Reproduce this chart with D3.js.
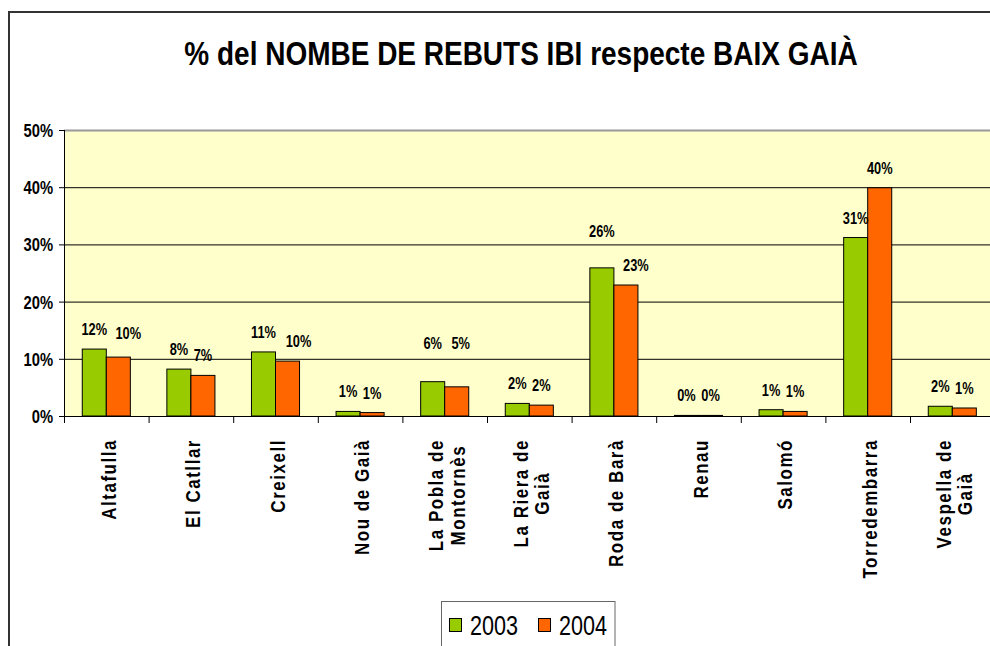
<!DOCTYPE html>
<html>
<head>
<meta charset="utf-8">
<script src="https://cdn.jsdelivr.net/npm/d3@7"></script>
<style>
  body { margin: 0; background: #fff; }
  svg { display: block; font-family: "Liberation Sans", Arial, sans-serif; }
</style>
</head>
<body>
<svg id="chart" width="990" height="646"></svg>
<script>
// data (percent)
var categories = ["Altafulla", "El Catllar", "Creixell", "Nou de Gaià", "La Pobla de\nMontornès",
                  "La Riera de\nGaià", "Roda de Barà", "Renau", "Salomó", "Torredembarra", "Vespella de\nGaià"];
var seriesNames = ["2003", "2004"];
var values2003 = [11.7, 8.2, 11.2, 0.8, 6.0, 2.2, 25.9, 0.1, 1.1, 31.2, 1.7];
var values2004 = [10.3, 7.1, 9.6, 0.6, 5.1, 1.9, 22.9, 0.1, 0.8, 39.9, 1.4];
var yTicks = [0, 10, 20, 30, 40, 50];
var titleText = "% del NOMBE DE REBUTS IBI respecte BAIX GAIÀ";

var colors = { "2003": "#99cc00", "2004": "#ff6600" };
// a few labels that were moved by hand in the original
var labelNudge = {
  "Altafulla|2004": [10, -4],
  "Creixell|2004": [11, 0],
  "La Pobla de\nMontornès|2003": [0, -19],
  "La Pobla de\nMontornès|2004": [4, -24],
  "Roda de Barà|2003": [0, -17],
  "Roda de Barà|2004": [10, 0]
};

var svg = d3.select('#chart');
var plotLeft = 64, plotTop = 130, plotBottom = 416, bandW = 84.6;

// squeeze text horizontally, the original fonts are narrow
function squeeze(sel, k){
    sel.each(function(){
        var len = this.getComputedTextLength();
        d3.select(this).attr('textLength', len * k).attr('lengthAdjust', 'spacingAndGlyphs');
    });
}

var x = d3.scaleBand().domain(categories)
    .range([plotLeft, plotLeft + bandW * categories.length])
    .paddingInner(0).paddingOuter(0);
var xs = d3.scaleBand().domain(seriesNames).range([0, x.bandwidth()]).paddingOuter(0.76);
var y = d3.scaleLinear().domain([0, 50]).range([plotBottom, plotTop]);

var rows = categories.map(function(c, i){
    return { cat: c, vals: [{ s: "2003", v: values2003[i] }, { s: "2004", v: values2004[i] }] };
});

// outer frame
svg.append('rect').attr('x', 9).attr('y', 12).attr('width', 1000).attr('height', 660)
    .attr('fill', 'none').attr('stroke', '#333').attr('stroke-width', 2);

// title
var title = svg.append('text').attr('x', 521).attr('y', 65).attr('text-anchor', 'middle')
    .attr('font-size', 34).attr('font-weight', 'bold').text(titleText);
squeeze(title, 0.823);

// plot background
svg.append('rect').attr('x', plotLeft).attr('y', plotTop)
    .attr('width', x.range()[1] - plotLeft).attr('height', plotBottom - plotTop)
    .attr('fill', '#ffffcc');

// grid lines
svg.append('g').selectAll('line').data(yTicks.filter(function(t){ return t > 0 && t < 50; }))
    .enter().append('line')
    .attr('x1', plotLeft).attr('x2', x.range()[1])
    .attr('y1', function(d){ return y(d) + 0.5; }).attr('y2', function(d){ return y(d) + 0.5; })
    .attr('stroke', '#000').attr('stroke-width', 1);
svg.append('line').attr('x1', plotLeft).attr('x2', x.range()[1])
    .attr('y1', plotTop + 0.5).attr('y2', plotTop + 0.5).attr('stroke', '#999').attr('stroke-width', 2);

// bars
var groups = svg.append('g').selectAll('g').data(rows).enter().append('g')
    .attr('transform', function(d){ return 'translate(' + x(d.cat) + ',0)'; });
groups.selectAll('rect').data(function(d){ return d.vals; }).enter().append('rect')
    .attr('x', function(d){ return xs(d.s); })
    .attr('y', function(d){ return y(d.v); })
    .attr('width', xs.bandwidth())
    .attr('height', function(d){ return plotBottom - y(d.v); })
    .attr('fill', function(d){ return colors[d.s]; })
    .attr('stroke', '#000').attr('stroke-width', 1);

// value labels
groups.each(function(row){
    var g = d3.select(this);
    row.vals.forEach(function(d){
        var n = labelNudge[row.cat + '|' + d.s] || [0, 0];
        var t = g.append('text')
            .attr('x', xs(d.s) + xs.bandwidth() / 2 + n[0])
            .attr('y', y(d.v) - 14 + n[1])
            .attr('text-anchor', 'middle').attr('font-size', 16).attr('font-weight', 'bold')
            .text(Math.round(d.v) + '%');
        squeeze(t, 0.8);
    });
});

// y axis
var yAxis = svg.append('g').attr('transform', 'translate(' + plotLeft + ',0)')
    .call(d3.axisLeft(y).tickValues(yTicks).tickSize(5).tickPadding(6)
        .tickFormat(function(d){ return d + '%'; }));
yAxis.select('.domain').attr('stroke', '#000').attr('d', 'M0.5,' + plotTop + 'V' + plotBottom);
yAxis.selectAll('.tick line').attr('stroke', '#000');
yAxis.selectAll('.tick text').attr('font-size', 18).attr('font-weight', 'bold')
    .attr('font-family', '"Liberation Sans", Arial, sans-serif').attr('fill', '#000').attr('dy', '0.36em');
squeeze(yAxis.selectAll('.tick text'), 0.82);

// x axis line and ticks at band edges
svg.append('line').attr('x1', plotLeft).attr('x2', x.range()[1])
    .attr('y1', plotBottom + 0.5).attr('y2', plotBottom + 0.5).attr('stroke', '#000');
svg.append('g').selectAll('line').data(categories.concat(['_end'])).enter().append('line')
    .attr('x1', function(d, i){ return plotLeft + i * x.step() + 0.5; })
    .attr('x2', function(d, i){ return plotLeft + i * x.step() + 0.5; })
    .attr('y1', plotBottom).attr('y2', plotBottom + 7).attr('stroke', '#000');

// rotated category labels
var labelTop = 439, lineH = 21.5, labelFs = 20;
categories.forEach(function(c){
    var lines = c.split('\n');
    var cx = x(c) + x.bandwidth() / 2 + 2;
    var texts = lines.map(function(line){
        var t = svg.append('text').attr('font-size', labelFs).attr('font-weight', 'bold')
            .attr('letter-spacing', '1.8px').attr('text-anchor', 'middle').text(line);
        squeeze(t, 0.85);
        return t;
    });
    var maxLen = d3.max(texts, function(t){ return +t.attr('textLength'); });
    texts.forEach(function(t, i){
        var lx = cx + (i - (lines.length - 1) / 2) * lineH + labelFs * 0.36;
        var ly = labelTop + maxLen / 2;
        t.attr('transform', 'translate(' + lx + ',' + ly + ') rotate(-90)');
    });
});

// legend
var legend = svg.append('g');
legend.append('rect').attr('x', 441.5).attr('y', 601.5).attr('width', 173.5).attr('height', 80)
    .attr('fill', '#fff').attr('stroke', '#666');
var lx = 449;
seriesNames.forEach(function(s){
    legend.append('rect').attr('x', lx + 0.5).attr('y', 618.5).attr('width', 12).attr('height', 13)
        .attr('fill', colors[s]).attr('stroke', '#000');
    var t = legend.append('text').attr('x', lx + 21).attr('y', 635).attr('font-size', 27).text(s);
    squeeze(t, 0.8);
    lx += 89;
});
</script>
</body>
</html>
